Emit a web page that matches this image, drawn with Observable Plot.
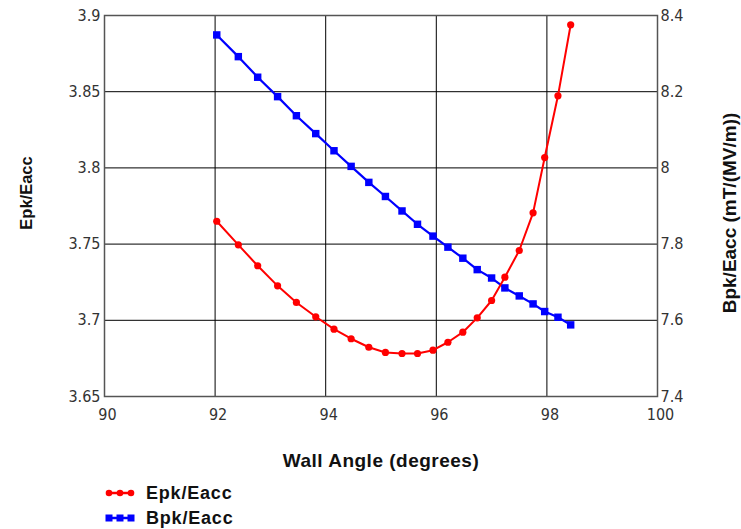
<!DOCTYPE html>
<html><head><meta charset="utf-8">
<script src="https://cdn.jsdelivr.net/npm/d3@7"></script>
<script src="https://cdn.jsdelivr.net/npm/@observablehq/plot@0.6"></script>
<style>
body{margin:0;background:#fff;font-family:"Liberation Sans",Arial,sans-serif;}
#legend{position:relative;height:59px;width:741px;}
.li{position:absolute;left:105px;display:flex;align-items:center;font-weight:bold;font-size:18px;letter-spacing:0.8px;color:#111;height:20px;}
.li svg{margin-right:11px}
</style></head><body>
<div id="chart"></div>
<div id="legend"></div>
<script>
const angleEpk = [92.03,92.42,92.77,93.13,93.47,93.82,94.15,94.46,94.78,95.08,95.38,95.66,95.94,96.21,96.48,96.74,97.00,97.24,97.50,97.75,97.96,98.20,98.43];
const epk = [3.765,3.7495,3.7358,3.7226,3.7117,3.7023,3.6942,3.6879,3.6823,3.6789,3.6782,3.6782,3.6804,3.6856,3.6922,3.7016,3.7130,3.7283,3.7458,3.7705,3.8068,3.8473,3.8939];
const angleBpk = [92.03,92.42,92.77,93.13,93.47,93.82,94.15,94.46,94.78,95.08,95.38,95.66,95.94,96.21,96.48,96.74,97.00,97.24,97.50,97.75,97.96,98.20,98.43];
const bpk = [8.349,8.292,8.238,8.187,8.137,8.090,8.045,8.004,7.962,7.925,7.887,7.852,7.821,7.792,7.763,7.733,7.711,7.685,7.664,7.643,7.623,7.608,7.588];
const xTicks = [90,92,94,96,98,100];
const yLeftTicks = [3.65,3.7,3.75,3.8,3.85,3.9];
const yRightTicks = [7.4,7.6,7.8,8,8.2,8.4];

const L0 = 3.65, L1 = 3.9, R0 = 7.4, R1 = 8.4;
const toLeft = b => L0 + (b - R0) / (R1 - R0) * (L1 - L0);

const epkData = angleEpk.map((a,i)=>({a, v: epk[i]}));
const bpkData = angleBpk.map((a,i)=>({a, v: toLeft(bpk[i])}));
const rightPos = yRightTicks.map(toLeft);

// detect narrow font
function hasFont(name){
  const c=document.createElement("canvas").getContext("2d");
  c.font='20px monospace'; const w0=c.measureText("3.65 90 100").width;
  c.font='20px "'+name+'", monospace'; const w1=c.measureText("3.65 90 100").width;
  return Math.abs(w0-w1)>0.5;
}
let tickFamily, tickSize;
if (hasFont("Liberation Sans Narrow")) { tickFamily='"Liberation Sans Narrow"'; tickSize=19; }
else if (hasFont("DejaVu Sans Condensed")) { tickFamily='"DejaVu Sans Condensed"'; tickSize=16; }
else { tickFamily='"Liberation Sans",Arial'; tickSize=17; }
const tickFont = {fontFamily: tickFamily + ',sans-serif', fontSize: tickSize, fill:"#333"};
const titleFont = '"Liberation Sans",Arial,sans-serif';

const chart = Plot.plot({
  width: 741, height: 470,
  marginLeft: 104, marginRight: 84, marginTop: 15, marginBottom: 74,
  style: {background:"#fff", overflow:"visible"},
  x: {domain:[90,100], ticks: xTicks},
  y: {domain:[L0,L1], ticks: yLeftTicks},
  marks: [
    Plot.ruleX(xTicks.slice(1,-1), {stroke:"#000", strokeWidth:1, strokeOpacity:1}),
    Plot.ruleY(yLeftTicks.slice(1,-1), {stroke:"#000", strokeWidth:1, strokeOpacity:1}),
    Plot.frame({stroke:"#555", strokeWidth:1.5}),
    Plot.axisX({ticks: xTicks, tickSize:0, tickPadding:12, dx:3, ...tickFont, label:null, tickFormat: d=>String(d)}),
    Plot.axisY({ticks: yLeftTicks, tickSize:0, tickPadding:4, ...tickFont, label:null, tickFormat: d=>String(d)}),
    Plot.axisY({anchor:"right", ticks: rightPos, tickSize:0, tickPadding:3, ...tickFont, label:null,
      tickFormat: d=>String(yRightTicks[rightPos.findIndex(p=>Math.abs(p-d)<1e-9)])}),
    Plot.line(bpkData, {x:"a", y:"v", stroke:"#0000ff", strokeWidth:2.2}),
    Plot.dot(bpkData, {x:"a", y:"v", symbol:"square", r:4.2, fill:"#0000ff"}),
    Plot.line(epkData, {x:"a", y:"v", stroke:"#ff0000", strokeWidth:2}),
    Plot.dot(epkData, {x:"a", y:"v", r:3.6, fill:"#ff0000"}),
    Plot.text(["Wall Angle (degrees)"], {frameAnchor:"bottom", lineAnchor:"middle", dy:64, text:d=>d, fontSize:19, fontWeight:"bold", fill:"#111", fontFamily:titleFont}),
    Plot.text(["Epk/Eacc"], {frameAnchor:"left", textAnchor:"middle", lineAnchor:"middle", dx:-78, dy:-13, rotate:-90, text:d=>d, fontSize:16.5, fontWeight:"bold", fill:"#111", fontFamily:titleFont}),
    Plot.text(["Bpk/Eacc (mT/(MV/m))"], {frameAnchor:"right", textAnchor:"middle", lineAnchor:"middle", dx:72, dy:7, rotate:-90, text:d=>d, fontSize:19, fontWeight:"bold", fill:"#111", fontFamily:titleFont})
  ]
});
document.getElementById("chart").appendChild(chart);
d3.select(chart).selectAll("text").filter(function(){return this.textContent==="Wall Angle (degrees)";}).style("letter-spacing","0.5px");

const legendItems = [
  {label:"Epk/Eacc", color:"#ff0000", shape:"circle", cy:23},
  {label:"Bpk/Eacc", color:"#0000ff", shape:"square", cy:48}
];
const leg = document.getElementById("legend");
legendItems.forEach(it=>{
  const div = document.createElement("div");
  div.className="li"; div.style.top=(it.cy-10)+"px";
  const ns="http://www.w3.org/2000/svg";
  const s=document.createElementNS(ns,"svg"); s.setAttribute("width","30"); s.setAttribute("height","20");
  const ln=document.createElementNS(ns,"line"); ln.setAttribute("x1","2");ln.setAttribute("x2","28");ln.setAttribute("y1","10");ln.setAttribute("y2","10");ln.setAttribute("stroke",it.color);ln.setAttribute("stroke-width","2.5");s.appendChild(ln);
  [4,15,26].forEach(cx=>{
    let m;
    if(it.shape==="circle"){m=document.createElementNS(ns,"circle");m.setAttribute("cx",cx);m.setAttribute("cy",10);m.setAttribute("r",3.3);}
    else{m=document.createElementNS(ns,"rect");m.setAttribute("x",cx-3.5);m.setAttribute("y",6.5);m.setAttribute("width",7);m.setAttribute("height",7);}
    m.setAttribute("fill",it.color);s.appendChild(m);
  });
  div.appendChild(s);
  const t=document.createElement("span"); t.textContent=it.label; div.appendChild(t);
  leg.appendChild(div);
});
</script>
</body></html>
